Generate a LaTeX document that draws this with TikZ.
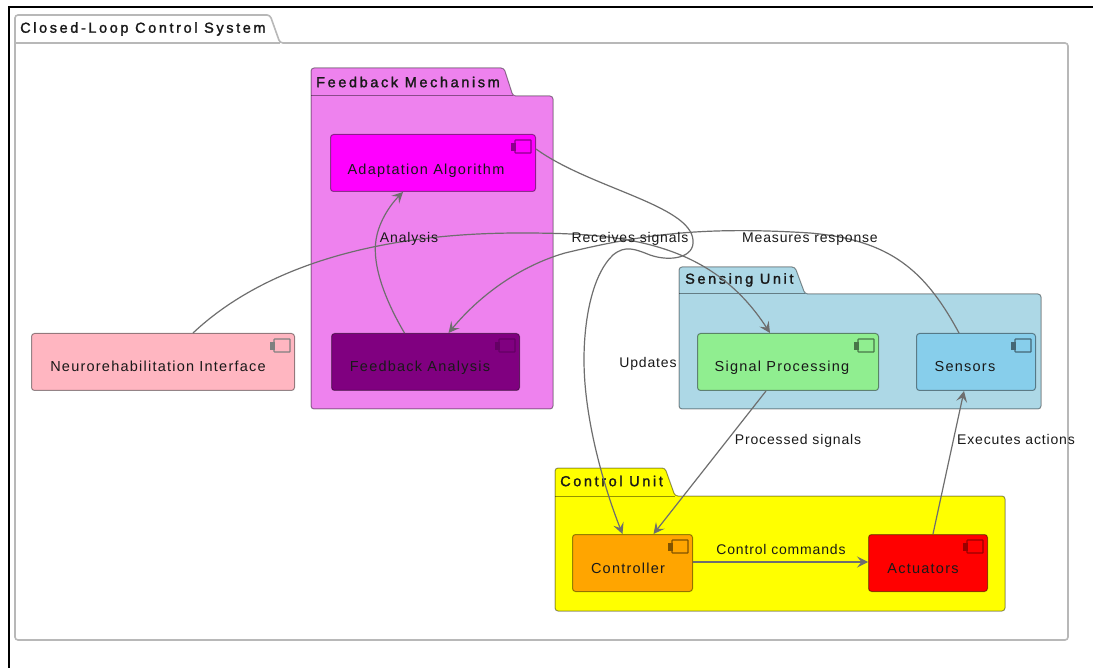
\documentclass[tikz,border=0pt]{standalone}
\usepackage{fontspec}
\setmainfont{Liberation Sans}
\newfontfamily\lblfont[LetterSpace=8.5]{Liberation Sans}
\newfontfamily\edgefont[LetterSpace=6]{Liberation Sans}
\newfontfamily\pkgfont[LetterSpace=18,FakeBold=1.6]{Liberation Sans}
\usetikzlibrary{arrows.meta,calc}
\definecolor{linegray}{HTML}{6E6E6E}
\definecolor{fbpkg}{HTML}{EE82EE}
\definecolor{senspkg}{HTML}{ADD8E6}
\definecolor{neurofill}{HTML}{FFB6C1}
\definecolor{sigfill}{HTML}{90EE90}
\definecolor{sensfill}{HTML}{87CEEB}
\definecolor{ctrlfill}{HTML}{FFA500}
\definecolor{purplefill}{HTML}{800080}
\definecolor{magfill}{HTML}{FF00FF}
\definecolor{yelfill}{HTML}{FFFF00}
\definecolor{redfill}{HTML}{FF0000}
\tikzset{
  x=1pt,y=-1pt,
  flow/.style={draw=linegray,line width=1.2pt,-{Stealth[length=11pt,width=11pt,inset=4.5pt]}},
  pkgbody/.style={draw=black,draw opacity=.42,line width=1pt,rounded corners=3pt},
  compbox/.style={draw=black,draw opacity=.42,line width=1pt,rounded corners=3pt,anchor=north west,inner sep=0pt,minimum height=57pt},
  pkgtitle/.style={font=\pkgfont\fontsize{14.5}{16}\selectfont,text=black!90,anchor=west,inner sep=0pt},
  comptext/.style={font=\lblfont\fontsize{14.5}{16}\selectfont,text=black!90,inner sep=0pt,text height=11pt,text depth=3pt},
  edgetext/.style={font=\edgefont\fontsize{14}{16}\selectfont,text=black!90,inner sep=0pt,text height=11pt,text depth=3pt}
}
\newcommand{\pkgshape}[8]{%
  \draw[pkgbody,fill=#8]
    (#1,#5) -- (#1,#4) -- (#2,#4) -- (#3,#5) -- (#6,#5) -- (#6,#7) -- (#1,#7) -- cycle;
  \draw[black,opacity=.42,line width=1pt] (#1,#5) -- (#3,#5);
}
\newcommand{\compicon}[2]{%
  \draw[#2,line width=1.2pt,rounded corners=.6pt] ($(#1.north east)+(-21,6)$) rectangle ($(#1.north east)+(-5,19)$);
  \draw[#2,fill=#2,line width=.8pt] ($(#1.north east)+(-25,9)$) rectangle ($(#1.north east)+(-21,12)$);
  \draw[#2,fill=#2,line width=.8pt] ($(#1.north east)+(-25,13)$) rectangle ($(#1.north east)+(-21,16)$);
}
\begin{document}
\begin{tikzpicture}
\useasboundingbox (0,0) rectangle (1093,668);
\fill[white] (0,0) rectangle (1093,668);
% black frame
\draw[black,line width=2pt] (9,668) -- (9,7) -- (1093,7);

% packages
\draw[rounded corners=3pt,draw=black!28,line width=1.6pt,fill=white]
  (15,43) -- (15,15) -- (270,15) -- (280,43) -- (1068,43) -- (1068,640) -- (15,640) -- cycle;
\draw[black!28,line width=1.6pt] (15,43) -- (280,43);
\pkgshape{311}{504}{513}{68}{96}{553}{409}{fbpkg}
\pkgshape{679}{795}{805}{267}{294}{1041}{409}{senspkg}
\pkgshape{555}{665}{675}{468}{496}{1005}{611}{yelfill}

\node[pkgtitle] (sys)  at (20,29)  {Closed-Loop Control System};
\node[pkgtitle] (fbm)  at (316,82) {Feedback Mechanism};
\node[pkgtitle] (sens) at (685,280) {Sensing Unit};
\node[pkgtitle] (ctrl) at (560,481) {Control Unit};

% components
\node[compbox,fill=magfill,minimum width=205pt] (adapt) at (330,134) {};
\node[compbox,fill=purplefill,minimum width=188pt] (fban) at (331,333) {};
\node[compbox,fill=neurofill,minimum width=263pt] (neuro) at (31,333) {};
\node[compbox,fill=sigfill,minimum width=181pt] (sig) at (697,333) {};
\node[compbox,fill=sensfill,minimum width=119pt] (sensors) at (916,333) {};
\node[compbox,fill=ctrlfill,minimum width=120pt] (controller) at (572,534) {};
\node[compbox,fill=redfill,minimum width=119pt] (act) at (868,534) {};

\compicon{adapt}{black!45!magfill}
\compicon{fban}{black!22!purplefill}
\compicon{neuro}{black!50}
\compicon{sig}{black!50!sigfill}
\compicon{sensors}{black!50!sensfill}
\compicon{controller}{black!50!ctrlfill}
\compicon{act}{black!40!redfill}

\node[comptext] (tadapt) at (426,171) {Adaptation Algorithm};
\node[comptext] (tfban) at (420,368) {Feedback Analysis};
\node[comptext] (tneuro) at (158,368) {Neurorehabilitation Interface};
\node[comptext] (tsig) at (782,368) {Signal Processing};
\node[comptext] (tsens) at (965,368) {Sensors};
\node[comptext] (tctrl) at (628,569) {Controller};
\node[comptext] (tact) at (923,569) {Actuators};

% connectors
\draw[flow] ([xshift=-21pt]fban.north) .. controls (385,300) and (372,265) .. (376,240) .. controls (379,220) and (392,203) .. ([xshift=-30pt]adapt.south);
\draw[flow] ([xshift=30pt]neuro.north) .. controls (260,270) and (370,233) .. (520,233) .. controls (620,233) and (710,240) .. ([xshift=-18pt]sig.north);
\draw[flow] ([xshift=-17pt]sensors.north) .. controls (925,270) and (890,240) .. (810,233) .. controls (700,226) and (640,235) .. (565,253) .. controls (520,266) and (480,295) .. ([xshift=23pt]fban.north);
\draw[flow] ([yshift=14pt]adapt.east) .. controls (590,188) and (690,205) .. (693,240) .. controls (695,258) and (670,262) .. (650,255) .. controls (635,249) and (625,245) .. (613,255) .. controls (592,275) and (584,320) .. (584,360) .. controls (584,420) and (605,490) .. ([xshift=-10pt]controller.north);
\draw[flow] ([xshift=-22pt]sig.south) -- ([xshift=21pt]controller.north);
\draw[flow] ([xshift=5pt]act.north) -- ([xshift=-12pt]sensors.south);
\draw[flow] ([yshift=1pt]controller.east) -- ([yshift=1pt]act.west);

% edge labels
\node[edgetext] (lana) at (409,239) {Analysis};
\node[edgetext] (lrec) at (630,239) {Receives signals};
\node[edgetext] (lmea) at (810,239) {Measures response};
\node[edgetext] (lupd) at (648,364) {Updates};
\node[edgetext] (lpro) at (798,440) {Processed signals};
\node[edgetext] (lexe) at (1016,440) {Executes actions};
\node[edgetext] (lcom) at (781,550) {Control commands};
\end{tikzpicture}
\end{document}
